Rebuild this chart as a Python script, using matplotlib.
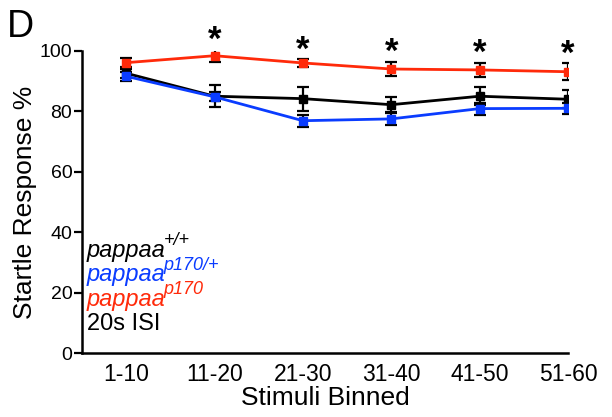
import numpy as np
import matplotlib.pyplot as plt

plt.rcParams['font.family'] = ['Liberation Sans', 'DejaVu Sans']

# binned stimuli and mean startle response (%) with error
bins = ['1-10', '11-20', '21-30', '31-40', '41-50', '51-60']
wt_mean = [92.6, 85.0, 84.2, 82.2, 85.0, 84.0]
wt_err = [1.5, 3.6, 4.0, 2.4, 2.9, 3.0]
het_mean = [91.6, 84.8, 76.9, 77.5, 80.9, 81.0]
het_err = [1.5, 1.5, 2.0, 2.0, 2.0, 1.9]
mut_mean = [96.1, 98.4, 96.0, 94.0, 93.7, 93.1]
mut_err = [1.5, 2.2, 1.2, 2.4, 2.4, 2.8]
signif = [False, True, True, True, True, True]

x = np.arange(len(bins))

fig = plt.figure(figsize=(6.12, 4.17), dpi=100)
ax = fig.add_axes([0.134, 0.153, 0.794, 0.725])

for m, e, c in [(wt_mean, wt_err, 'black'), (het_mean, het_err, '#0a3cff'),
                (mut_mean, mut_err, '#ff2a0a')]:
    ax.errorbar(x, m, yerr=e, color=c, ecolor='black', elinewidth=1.6,
                capsize=4, capthick=1.6, lw=2, marker='s', ms=6,
                mec=c, mfc=c)

for xi, m, e, s in zip(x, mut_mean, mut_err, signif):
    if s:
        ax.text(xi, m + e + 3.0, '*', ha='center', va='center',
                fontsize=25, fontweight='bold')

ax.set_xlim(-0.5, 5)
ax.set_ylim(0, 100)
ax.set_yticks([0, 20, 40, 60, 80, 100])
ax.set_xticks(x)
ax.set_xticklabels(bins)
ax.tick_params(axis='x', length=0, labelsize=16.5, pad=7)
ax.tick_params(axis='y', length=6, width=1.6, labelsize=14, pad=1)
for s in ['top', 'right']:
    ax.spines[s].set_visible(False)
for s in ['left', 'bottom']:
    ax.spines[s].set_linewidth(1.8)
ax.set_xlabel('Stimuli Binned', fontsize=19, labelpad=0)
ax.set_ylabel('Startle Response %', fontsize=19, labelpad=2)

# legend as coloured text, genotype written as italic base + superscript
leg = [('pappaa', '+/+', 'black'),
       ('pappaa', 'p170/+', '#0a3cff'),
       ('pappaa', 'p170', '#ff2a0a'),
       ('20s ISI', '', 'black')]
for i, (base, sup, c) in enumerate(leg):
    y = 0.40 - i * 0.059
    style = 'italic' if sup else 'normal'
    t = fig.text(0.142, y, base, color=c, fontsize=17, va='center',
                 style=style)
    if sup:
        ax.annotate(sup, xy=(1, 0.55), xycoords=t, xytext=(-1.5, 0),
                    textcoords='offset points', color=c, fontsize=13,
                    style='italic', va='bottom', ha='left')

fig.text(0.012, 0.935, 'D', fontsize=27, va='center')

fig.savefig('out.png', dpi=100)
